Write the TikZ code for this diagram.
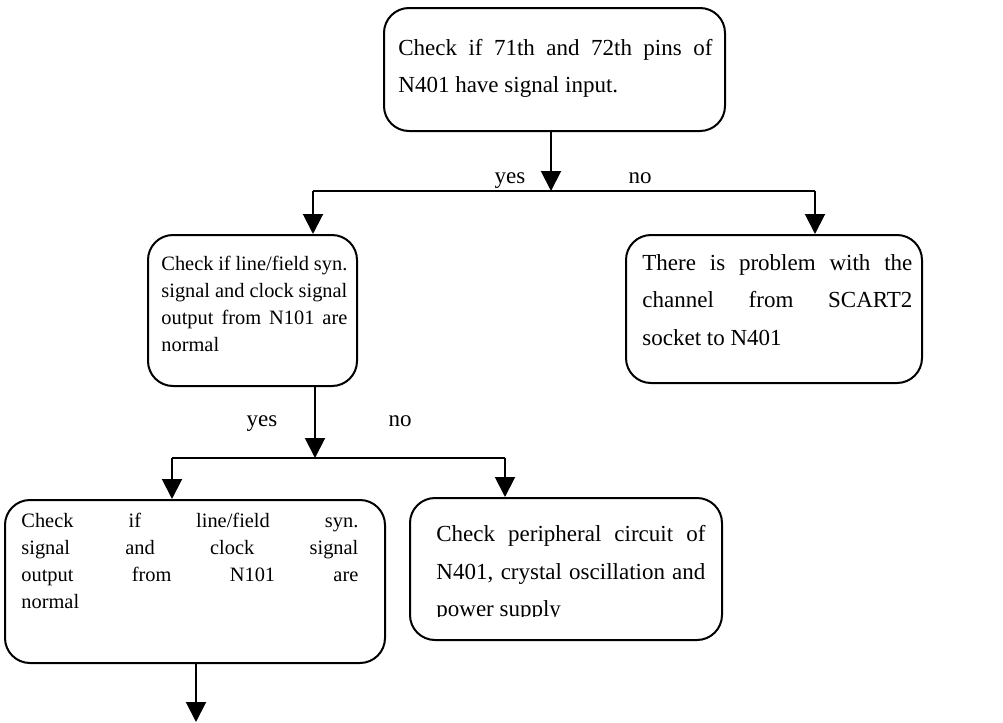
\documentclass[tikz,border=0pt]{standalone}
\usepackage{fontspec}
\setmainfont{Liberation Serif}
\usetikzlibrary{arrows.meta,calc}

\tikzset{
  boxframe/.style={draw,line width=1pt,rounded corners=12.5pt,inner sep=0pt},
  txtsmall/.style={anchor=base west,inner sep=0pt,align=justify,
    font=\fontsize{10.2}{13.5}\selectfont},
  txtlarge/.style={anchor=base west,inner sep=0pt,align=justify,
    font=\fontsize{11.5}{18.75}\selectfont},
  answer/.style={anchor=base,inner sep=0pt,font=\fontsize{11.5}{14}\selectfont},
  flow/.style={line width=1pt,-{Triangle[length=10pt,width=10pt]}},
  link/.style={line width=1pt}
}

\begin{document}
\begin{tikzpicture}[x=0.5pt,y=-0.5pt]
\useasboundingbox (0,0) rectangle (1003,723);

% boxes
\node[boxframe,minimum width=170.5pt,minimum height=61.5pt] (check) at (554.5,69.5) {};
\node[boxframe,minimum width=104.5pt,minimum height=75.5pt] (syncA) at (252.5,310.5) {};
\node[boxframe,minimum width=148pt,minimum height=74pt] (scart) at (774,309) {};
\node[boxframe,minimum width=190pt,minimum height=81.5pt] (syncB) at (195,581.5) {};
\node[boxframe,minimum width=156pt,minimum height=71pt] (periph) at (566,569) {};

% texts
\node[txtlarge,text width=157pt] (checktext) at (398,55)
  {Check if 71th and 72th pins of\linebreak N401 have signal input.};
\node[txtsmall,text width=93pt] (syncAtext) at (161,270.5)
  {Check if line/field syn.\linebreak signal and clock signal\linebreak output from N101 are\linebreak normal};
\node[txtlarge,text width=135pt] (scarttext) at (642,270)
  {There is problem with the\linebreak channel from SCART2\linebreak socket to N401};
\node[txtsmall,text width=168.5pt] (syncBtext) at (21,527)
  {Check if line/field syn.\linebreak signal and clock signal\linebreak output from N101 are\linebreak normal};
\begin{scope}
  \clip (periph.north west) rectangle (722,616);
  \node[txtlarge,text width=134.5pt] (periphtext) at (436,541.5)
    {Check peripheral circuit of\linebreak N401, crystal oscillation and\linebreak power supply};
\end{scope}

% first fork
\coordinate (fork1) at (551,191);
\coordinate (fork1L) at (313,191);
\coordinate (fork1R) at (815,191);
\draw[flow] (check.south -| fork1) -- (fork1);
\draw[link] (fork1L) -- (fork1R);
\draw[flow] (fork1L) -- (fork1L |- syncA.north);
\draw[flow] (fork1R) -- (fork1R |- scart.north);
\node[answer] (yes1) at (510,183) {yes};
\node[answer] (no1) at (640,183) {no};

% second fork
\coordinate (fork2) at (315,458);
\coordinate (fork2L) at (172,458);
\coordinate (fork2R) at (505,458);
\draw[flow] (syncA.south -| fork2) -- (fork2);
\draw[link] (fork2L) -- (fork2R);
\draw[flow] (fork2L) -- (fork2L |- syncB.north);
\draw[flow] (fork2R) -- (fork2R |- periph.north);
\node[answer] (yes2) at (262,426) {yes};
\node[answer] (no2) at (400,426) {no};

% exit
\coordinate (exit) at (196,722);
\draw[flow] (syncB.south -| exit) -- (exit);
\end{tikzpicture}
\end{document}
